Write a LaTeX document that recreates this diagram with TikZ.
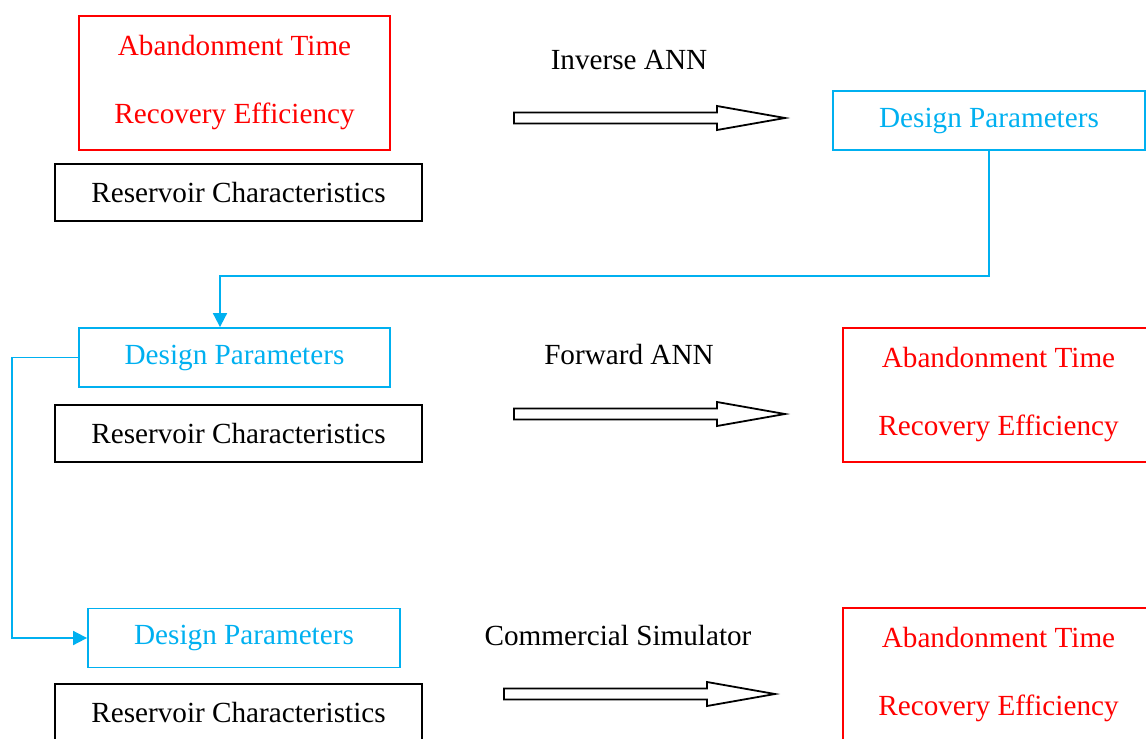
\documentclass[tikz,border=0pt]{standalone}
\usepackage{fontspec}
\setmainfont{Liberation Serif}
\usepackage{tikz}
\usetikzlibrary{positioning,arrows.meta}
\definecolor{outred}{HTML}{FF0000}
\definecolor{dpcyan}{HTML}{00B0F0}

\begin{document}
\begin{tikzpicture}[x=0.5pt,y=-0.5pt,
  every node/.style={font=\fontsize{14.6}{17.5}\selectfont,inner sep=0pt},
  box/.style={draw,line width=0.9pt,align=center},
  outbox/.style={box,draw=outred,text=outred,minimum width=155.5pt,minimum height=67pt},
  dpbox/.style={box,draw=dpcyan,text=dpcyan,minimum width=156pt,minimum height=29.5pt},
  rcbox/.style={box,draw=black,minimum width=183.5pt,minimum height=28.5pt},
  conn/.style={-{Triangle[length=7pt,width=7pt]},line width=0.9pt,dpcyan},
  bigarr/.pic={\draw[line width=0.9pt,fill=white] (0,-5.5) -- (203,-5.5) -- (203,-12) -- (271,0) -- (203,12) -- (203,5.5) -- (0,5.5) -- cycle;}]
  \useasboundingbox (0,0) rectangle (1146,739);
  % row 1: inverse
  \node[outbox] (out1) at (234.5,83) {Abandonment Time\\[16.5pt]Recovery Efficiency};
  \node[rcbox,below=6pt of out1,xshift=2pt] (rc1) {Reservoir Characteristics};
  \node (lbl1) at (629,60) {Inverse ANN};
  \pic at (514,118) {bigarr};
  \node[dpbox] (dp1) at (989,120.5) {Design Parameters};
  % row 2: forward
  \node[dpbox,minimum width=155.5pt] (dp2) at (234.5,357.5) {Design Parameters};
  \node[rcbox,below=8pt of dp2,xshift=2pt] (rc2) {Reservoir Characteristics};
  \node (lbl2) at (629,355) {Forward ANN};
  \pic at (514,414) {bigarr};
  \node[outbox] (out2) at (998.5,395) {Abandonment Time\\[16.5pt]Recovery Efficiency};
  % row 3: simulator
  \node[dpbox] (dp3) at (244,638) {Design Parameters};
  \node[rcbox,below=7.5pt of dp3,xshift=-2.75pt] (rc3) {Reservoir Characteristics};
  \node (lbl3) at (618,636) {Commercial Simulator};
  \pic at (504,694) {bigarr};
  \node[outbox] (out3) at (998.5,675) {Abandonment Time\\[16.5pt]Recovery Efficiency};
  % links
  \coordinate (turn1) at (220,276);
  \coordinate (turn2) at (12,500);
  \draw[conn] (dp1.south) |- (turn1) -- (turn1 |- dp2.north);
  \draw[conn] (dp2.west) -- (dp2.west -| turn2) |- (dp3.west);
\end{tikzpicture}
\end{document}
